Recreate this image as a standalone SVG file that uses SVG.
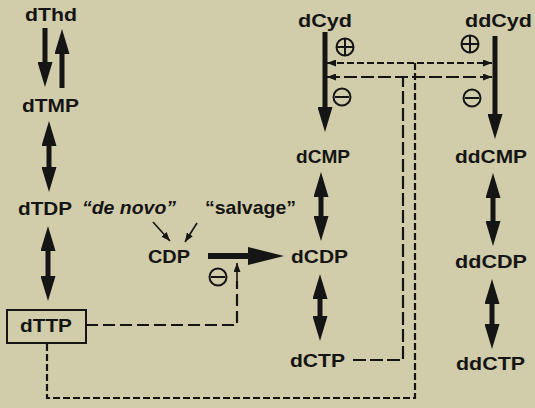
<svg xmlns="http://www.w3.org/2000/svg" width="535" height="408" viewBox="0 0 535 408">
<style>
.t{font-family:"Liberation Sans",Arial,sans-serif;font-weight:bold;font-size:18.5px;fill:#151515}
.it{font-style:italic}
.sh{stroke:#151515;stroke-width:5;fill:none}
.th{stroke:#151515;stroke-width:1.6;fill:none}
.d1{stroke:#151515;stroke-width:2.2;fill:none;stroke-dasharray:12 5}
.d2{stroke:#151515;stroke-width:2.2;fill:none;stroke-dasharray:7 3}
.d3{stroke:#151515;stroke-width:2.2;fill:none;stroke-dasharray:13 4}
.cir{stroke:#151515;stroke-width:2;fill:none}
</style>
<defs>
<marker id="h" markerUnits="userSpaceOnUse" markerWidth="25" markerHeight="15" viewBox="0 0 25 15" refX="1" refY="7.5" orient="auto-start-reverse"><path d="M0,0 L25,7.5 L0,15z" fill="#151515"/></marker>
<marker id="hb" markerUnits="userSpaceOnUse" markerWidth="36" markerHeight="18" viewBox="0 0 36 18" refX="1" refY="9" orient="auto"><path d="M0,0 L36,9 L0,18z" fill="#151515"/></marker>
<marker id="sa" markerUnits="userSpaceOnUse" markerWidth="9" markerHeight="7" viewBox="0 0 9 7" refX="9" refY="3.5" orient="auto-start-reverse"><path d="M0,0 L9,3.5 L0,7z" fill="#151515"/></marker>
</defs>
<rect x="0" y="0" width="535" height="408" fill="#d1cca9"/>

<g id="connectors">
<line class="sh" x1="45" y1="28" x2="45" y2="63" marker-end="url(#h)"/>
<line class="sh" x1="62" y1="88" x2="62" y2="53" marker-end="url(#h)"/>
<line class="sh" x1="49" y1="145" x2="49" y2="168" marker-start="url(#h)" marker-end="url(#h)"/>
<line class="sh" x1="48" y1="250" x2="48" y2="277" marker-start="url(#h)" marker-end="url(#h)"/>
<line class="sh" x1="321" y1="196" x2="321" y2="217" marker-start="url(#h)" marker-end="url(#h)"/>
<line class="sh" x1="320" y1="298" x2="320" y2="317" marker-start="url(#h)" marker-end="url(#h)"/>
<line class="sh" x1="493" y1="197" x2="493" y2="222" marker-start="url(#h)" marker-end="url(#h)"/>
<line class="sh" x1="492" y1="303" x2="492" y2="325" marker-start="url(#h)" marker-end="url(#h)"/>
<line class="sh" x1="325" y1="32" x2="325" y2="108" marker-end="url(#h)"/>
<line class="sh" x1="495" y1="36" x2="495" y2="115" marker-end="url(#h)"/>
<line stroke="#151515" stroke-width="6" x1="208" y1="256" x2="249" y2="256" marker-end="url(#hb)"/>
<line class="th" x1="153" y1="222" x2="170" y2="241" marker-end="url(#sa)"/>
<line class="th" x1="197" y1="223" x2="185" y2="242" marker-end="url(#sa)"/>
<line class="d2" x1="327" y1="63" x2="492" y2="63" marker-start="url(#sa)" marker-end="url(#sa)"/>
<line class="d3" x1="327" y1="77" x2="492" y2="77" marker-start="url(#sa)" marker-end="url(#sa)"/>
<polyline class="d3" points="353,360 403,360 403,77"/>
<polyline class="d2" points="415,63 415,398 47,398 47,343"/>
<polyline class="d1" points="86,325 237,325 237,281"/>
<line class="th" stroke-width="2" x1="237" y1="284" x2="237" y2="263" marker-end="url(#sa)"/>
</g>

<g id="signs">
<circle class="cir" cx="345" cy="47" r="8.5"/><path class="cir" d="M337,47 H353 M345,39 V55"/>
<circle class="cir" cx="470" cy="44" r="8.5"/><path class="cir" d="M462,44 H478 M470,36 V52"/>
<circle class="cir" cx="342" cy="97" r="8.5"/><path class="cir" d="M335,97 H349"/>
<circle class="cir" cx="472" cy="98" r="8.5"/><path class="cir" d="M465,98 H479"/>
<circle class="cir" cx="218" cy="277" r="8.5"/><path class="cir" d="M211,277 H225"/>
</g>

<g id="dThd"><text class="t" x="25" y="21" textLength="52" lengthAdjust="spacingAndGlyphs">dThd</text></g>
<g id="dTMP"><text class="t" x="22" y="112" textLength="57" lengthAdjust="spacingAndGlyphs">dTMP</text></g>
<g id="dTDP"><text class="t" x="18" y="215" textLength="54" lengthAdjust="spacingAndGlyphs">dTDP</text></g>
<g id="denovo"><text class="t it" x="82" y="214" textLength="94" lengthAdjust="spacingAndGlyphs">“de novo”</text></g>
<g id="salvage"><text class="t" x="205" y="214" textLength="91" lengthAdjust="spacingAndGlyphs">“salvage”</text></g>
<g id="CDP"><text class="t" x="148" y="263" textLength="42" lengthAdjust="spacingAndGlyphs">CDP</text></g>
<g id="dTTP"><rect x="7" y="310" width="79" height="33" fill="none" stroke="#151515" stroke-width="2"/><text class="t" x="20" y="332" textLength="52" lengthAdjust="spacingAndGlyphs">dTTP</text></g>
<g id="dCyd"><text class="t" x="298" y="27" textLength="54" lengthAdjust="spacingAndGlyphs">dCyd</text></g>
<g id="ddCyd"><text class="t" x="465" y="27" textLength="67" lengthAdjust="spacingAndGlyphs">ddCyd</text></g>
<g id="dCMP"><text class="t" x="296" y="163" textLength="54" lengthAdjust="spacingAndGlyphs">dCMP</text></g>
<g id="dCDP"><text class="t" x="291" y="263" textLength="57" lengthAdjust="spacingAndGlyphs">dCDP</text></g>
<g id="dCTP"><text class="t" x="290" y="367" textLength="55" lengthAdjust="spacingAndGlyphs">dCTP</text></g>
<g id="ddCMP"><text class="t" x="455" y="163" textLength="72" lengthAdjust="spacingAndGlyphs">ddCMP</text></g>
<g id="ddCDP"><text class="t" x="455" y="268" textLength="72" lengthAdjust="spacingAndGlyphs">ddCDP</text></g>
<g id="ddCTP"><text class="t" x="456" y="370" textLength="69" lengthAdjust="spacingAndGlyphs">ddCTP</text></g>
</svg>
